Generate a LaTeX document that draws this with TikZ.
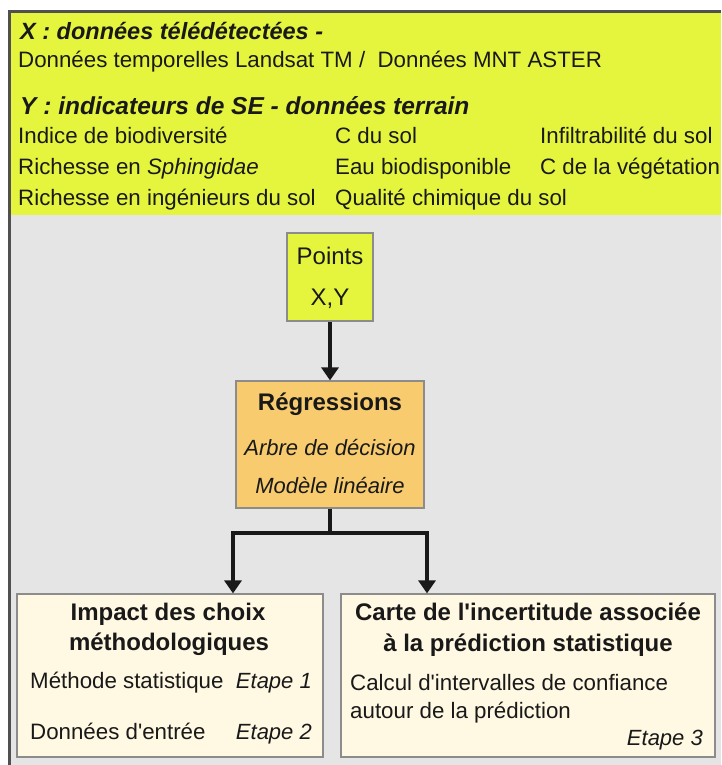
\documentclass[tikz,border=0pt]{standalone}
\usepackage{fontspec}
\setmainfont{Liberation Sans}
\usetikzlibrary{arrows.meta}

\definecolor{bandyellow}{RGB}{229,245,62}
\definecolor{panelgray}{RGB}{229,229,229}
\definecolor{framegray}{RGB}{80,80,80}
\definecolor{boxgray}{RGB}{140,140,140}
\definecolor{regorange}{RGB}{248,204,110}
\definecolor{cream}{RGB}{255,248,226}
\definecolor{ink}{RGB}{25,25,25}

\tikzset{
  box/.style={draw=boxgray, line width=1.2pt, inner sep=0pt},
  bodytxt/.style={inner sep=0pt, anchor=base west, text=ink,
    font=\fontsize{22.3}{26}\selectfont},
  midtxt/.style={bodytxt, anchor=base},
  bandhead/.style={bodytxt, font=\fontsize{23.5}{28}\selectfont\bfseries\itshape},
  boxhead/.style={midtxt, font=\fontsize{24}{28}\selectfont\bfseries},
  arr/.style={draw=ink, line width=3.2pt,
    -{Triangle[width=17pt,length=13pt]}}
}

\begin{document}
\begin{tikzpicture}
  [x=1pt,y=-1pt]
  \useasboundingbox (0,0) rectangle (721,765);
  \fill[panelgray] (9,12) rectangle (721,765);
  \fill[bandyellow] (9,12) rectangle (721,215);
  \draw[framegray, line width=3pt] (9,765) -- (9,12) -- (721,12);

  \node[bandhead] (hx) at (20,40) {X : données télédétectées -};
  \node[bodytxt] (dx) at (18,68) {Données temporelles Landsat TM /~ Données MNT ASTER};
  \node[bandhead, font=\fontsize{24.5}{28}\selectfont\bfseries\itshape] (hy) at (20,115) {Y : indicateurs de SE - données terrain};

  \foreach \txt/\xx/\yy [count=\i] in {
    Indice de biodiversité/18/143, C du sol/335/143, Infiltrabilité du sol/540/143,
    {Richesse en \textit{Sphingidae}}/18/174, Eau biodisponible/335/174,
    C de la végétation/540/174,
    Richesse en ingénieurs du sol/18/205, Qualité chimique du sol/335/205}
  \node[bodytxt] (se\i) at (\xx,\yy) {\txt};

  \node[box, fill=bandyellow, minimum width=86pt, minimum height=88pt] (pts) at (330,277) {};
  \node[midtxt, font=\fontsize{24}{28}\selectfont] (pts1) at (330,264) {Points};
  \node[midtxt, font=\fontsize{24}{28}\selectfont] (pts2) at (330,305) {X,Y};

  \node[box, fill=regorange, minimum width=188pt, minimum height=127pt] (reg) at (330,444.5) {};
  \node[boxhead] (reg1) at (330,410) {Régressions};
  \node[midtxt, font=\fontsize{22}{26}\selectfont\itshape] (reg2) at (330,455) {Arbre de décision};
  \node[midtxt, font=\fontsize{22}{26}\selectfont\itshape] (reg3) at (330,493) {Modèle linéaire};

  \node[box, fill=cream, minimum width=306pt, minimum height=163pt] (imp) at (170,675.5) {};
  \node[boxhead] (imp1) at (168,620) {Impact des choix};
  \node[boxhead] (imp2) at (169,650) {méthodologiques};
  \node[bodytxt] (imp3) at (30,688) {Méthode statistique};
  \node[bodytxt, anchor=base east, font=\fontsize{22}{26}\selectfont\itshape] (et1) at (312,688) {Etape 1};
  \node[bodytxt] (imp4) at (30,739) {Données d\textquotesingle entrée};
  \node[bodytxt, anchor=base east, font=\fontsize{22}{26}\selectfont\itshape] (et2) at (312,739) {Etape 2};

  \node[box, fill=cream, minimum width=374pt, minimum height=163pt] (carte) at (528,675.5) {};
  \node[boxhead] (carte1) at (528,620) {Carte de l\textquotesingle incertitude associée};
  \node[boxhead] (carte2) at (528,651) {à la prédiction statistique};
  \node[bodytxt] (carte3) at (350,690) {Calcul d\textquotesingle intervalles de confiance};
  \node[bodytxt] (carte4) at (350,718) {autour de la prédiction};
  \node[bodytxt, anchor=base east, font=\fontsize{22}{26}\selectfont\itshape] (et3) at (703,745) {Etape 3};

  \coordinate (bl) at (233,533);
  \coordinate (br) at (427,533);
  \draw[arr] (pts) -- (reg);
  \draw[arr] (reg.south) |- (bl) -- (bl |- imp.north);
  \draw[arr] (reg.south) |- (br) -- (br |- carte.north);
\end{tikzpicture}
\end{document}
